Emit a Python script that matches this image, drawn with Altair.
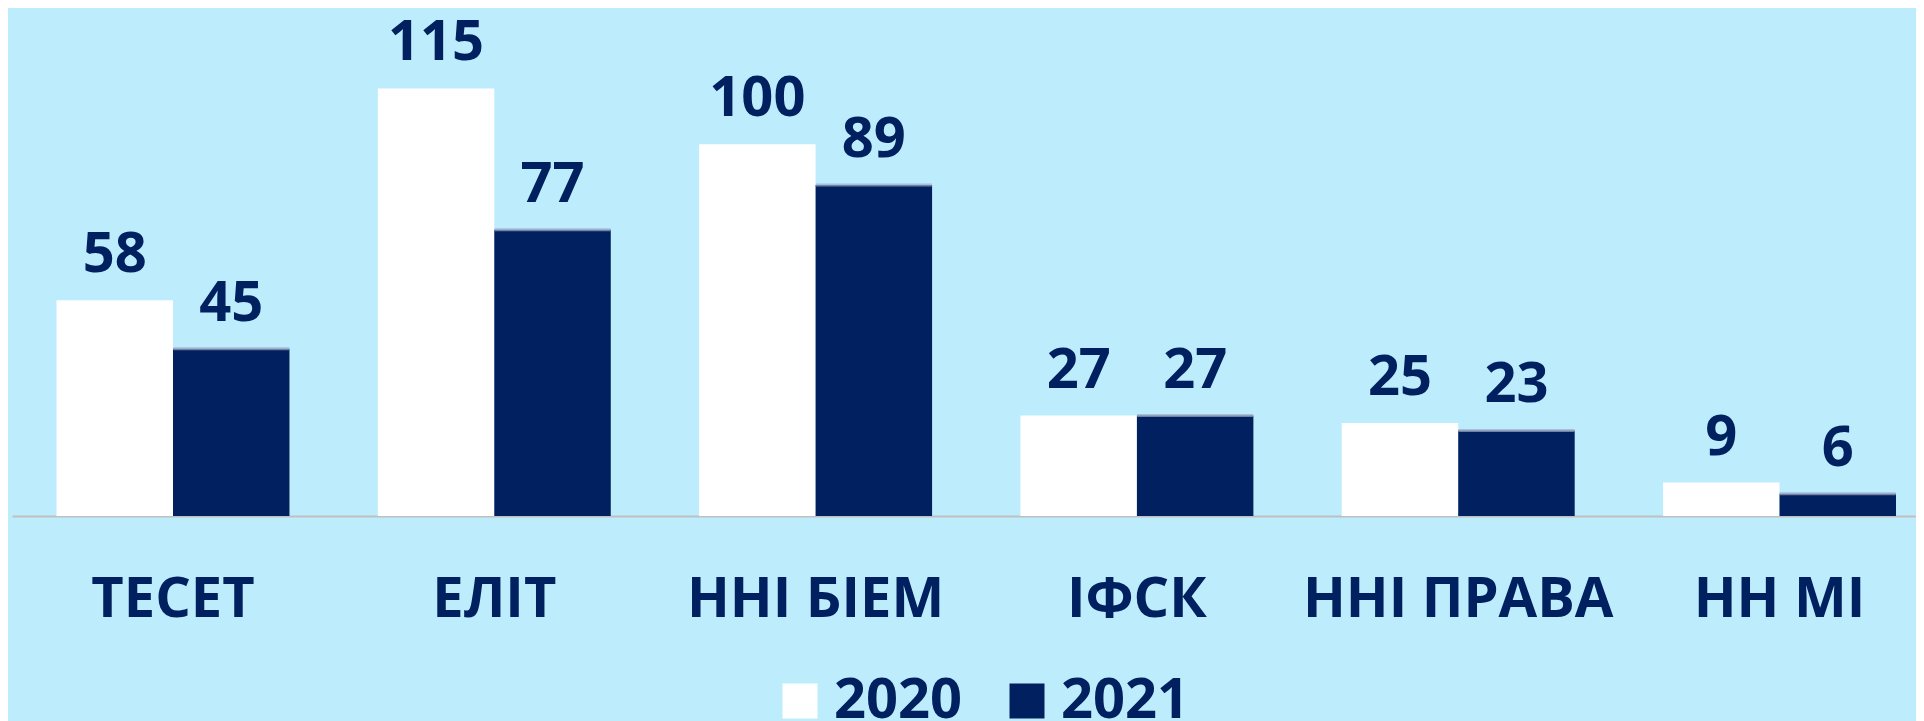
import altair as alt
import pandas as pd

categories = ["ТЕСЕТ", "ЕЛІТ", "ННІ БІЕМ", "ІФСК", "ННІ ПРАВА", "НН МІ"]
years = ["2020", "2021"]
values_2020 = [58, 115, 100, 27, 25, 9]
values_2021 = [45, 77, 89, 27, 23, 6]

rows = []
for c, v in zip(categories, values_2020):
    rows.append({"cat": c, "year": "2020", "value": v})
for c, v in zip(categories, values_2021):
    rows.append({"cat": c, "year": "2021", "value": v})
df = pd.DataFrame(rows)

NAVY = "#002060"
BG = "#BDECFC"
FONT = "Open Sans"

x = alt.X("cat:N", sort=categories, title=None,
          scale=alt.Scale(paddingInner=0.275, paddingOuter=0.1004, align=0.69),
          axis=alt.Axis(labelAngle=0, labelFont=FONT, labelFontSize=56, labelFontWeight="bold",
                        labelColor=NAVY, ticks=False, labelPadding=56, domainColor="#BFBFBF",
                        domainWidth=2, grid=False, labelLimit=0))
xo = alt.XOffset("year:N", sort=years, scale=alt.Scale(paddingInner=0, paddingOuter=0))
y = alt.Y("value:Q", scale=alt.Scale(domain=[0, 133.4], nice=False), axis=None)

bars = alt.Chart(df).mark_bar().encode(
    x=x, xOffset=xo, y=y,
    color=alt.Color("year:N", sort=years,
                    scale=alt.Scale(domain=years, range=["#FFFFFF", NAVY]),
                    legend=alt.Legend(title=None, orient="none", direction="horizontal",
                                      legendX=760, legendY=653, symbolType="square",
                                      symbolSize=1225, symbolStrokeWidth=0, labelFont=FONT,
                                      labelFontSize=56, labelFontWeight="bold", labelColor=NAVY,
                                      labelOffset=6, columnPadding=36, padding=0,
                                      symbolOpacity=1, labelLimit=0)),
)

tops = alt.Chart(df[df["year"] == "2021"]).mark_tick(color="#A3ADC6", thickness=3, size=116).encode(
    x=x, xOffset=xo, y=y
)

labels = alt.Chart(df).mark_text(font=FONT, fontSize=56, fontWeight="bold", color=NAVY,
                                 baseline="alphabetic", dy=-28).encode(
    x=x, xOffset=xo, y=y, text="value:Q"
)

chart = alt.layer(bars, tops, labels).properties(
    width=1904, height=496,
    autosize=alt.AutoSizeParams(type="none"),
    padding={"left": 4, "top": 12, "right": 0, "bottom": 205},
    background=BG,
).configure_view(stroke=None)

chart.save("out.html", embed_options={"renderer": "svg", "actions": False})
